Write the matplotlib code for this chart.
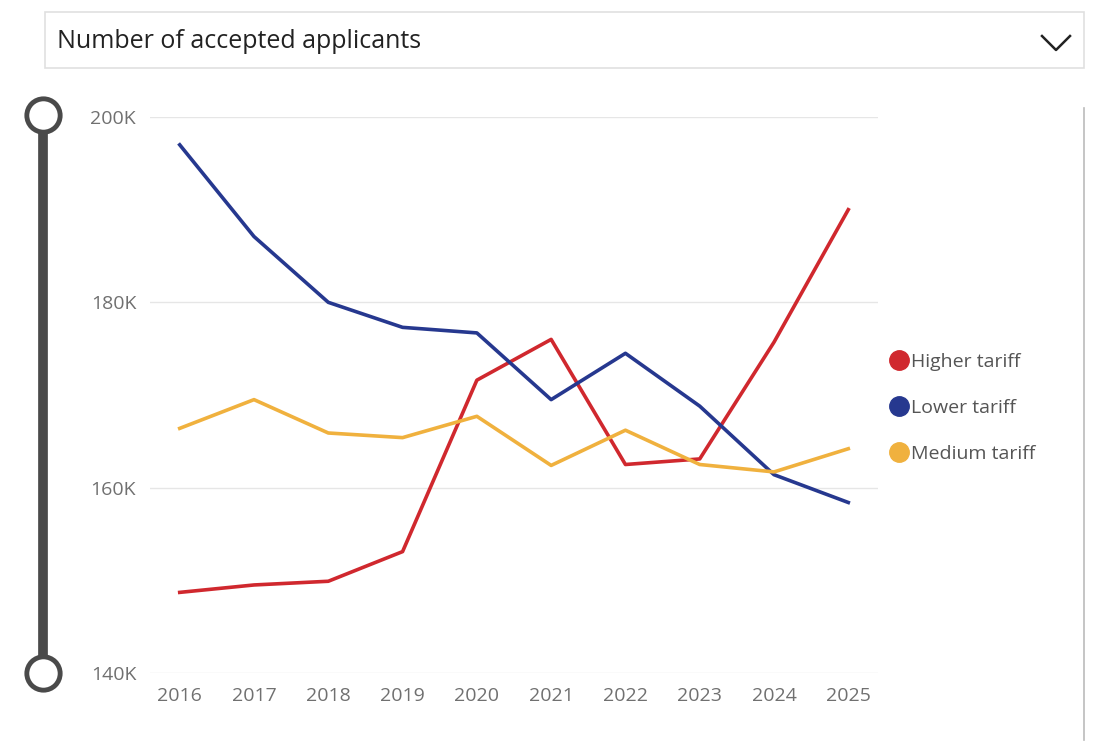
import matplotlib
matplotlib.use("Agg")
import matplotlib.pyplot as plt
from matplotlib.patches import Rectangle
from matplotlib.lines import Line2D

years = [2016, 2017, 2018, 2019, 2020, 2021, 2022, 2023, 2024, 2025]
higher = [148.7, 149.5, 149.9, 153.1, 171.6, 176.0, 162.5, 163.1, 175.7, 190.0]
lower = [197.0, 187.1, 180.0, 177.3, 176.7, 169.5, 174.5, 168.8, 161.4, 158.4]
medium = [166.4, 169.5, 165.9, 165.4, 167.7, 162.4, 166.2, 162.5, 161.7, 164.2]
series_names = ["Higher tariff", "Lower tariff", "Medium tariff"]
colors = ["#D0282E", "#26388F", "#F0B13E"]
yticks = [140, 160, 180, 200]

W, H = 1118, 750
fig = plt.figure(figsize=(W/100, H/100), dpi=100)
plt.rcParams['font.family'] = ['Open Sans', 'DejaVu Sans']

def fx(px): return px / W
def fy(py): return 1 - py / H

ax = fig.add_axes([fx(150), fy(673), fx(878) - fx(150), fy(117) - fy(673)])
for vals, c, n in zip([higher, lower, medium], colors, series_names):
    ax.plot(years, vals, color=c, lw=2.6, label=n)
ax.set_ylim(140, 200)
ax.set_xlim(2015.6, 2025.4)
ax.set_yticks(yticks)
ax.set_yticklabels([f"{v}K" for v in yticks])
ax.set_xticks(years)
ax.grid(axis='y', color='#E6E6E6', lw=1)
ax.set_axisbelow(True)
for s in ax.spines.values():
    s.set_visible(False)
ax.tick_params(length=0, labelsize=14, labelcolor='#707070', pad=10)

handles = [Line2D([], [], marker='o', ls='', color=c, markersize=14) for c in colors]
fig.legend(handles, series_names, loc='center left', bbox_to_anchor=(fx(866), fy(408)),
           frameon=False, fontsize=14, labelcolor='#555555', handletextpad=-0.2,
           labelspacing=1.45, handlelength=1.6)

# dropdown
fig.add_artist(Rectangle((fx(45), fy(68)), fx(1084) - fx(45), fy(12) - fy(68),
                         transform=fig.transFigure, fill=False, ec='#E0E0E0', lw=1.2))
fig.text(fx(57), fy(42), "Number of accepted applicants", fontsize=18, color='#222222', va='center')
fig.add_artist(Line2D([fx(1042), fx(1056), fx(1070)], [fy(36), fy(50), fy(36)],
                      transform=fig.transFigure, color='#222222', lw=1.8))
# slider
fig.add_artist(Line2D([fx(43), fx(43)], [fy(115), fy(673)], transform=fig.transFigure,
                      color='#4A4A4A', lw=7, solid_capstyle='butt'))
for py in (115, 673):
    fig.add_artist(Line2D([fx(43)], [fy(py)], transform=fig.transFigure, marker='o',
                          markersize=24, mfc='white', mec='#4A4A4A', mew=3.5))
# right border line
fig.add_artist(Line2D([fx(1084), fx(1084)], [fy(108), fy(740)], transform=fig.transFigure,
                      color='#BBBBBB', lw=1.2))

fig.savefig("out.png", dpi=100, facecolor='white')
